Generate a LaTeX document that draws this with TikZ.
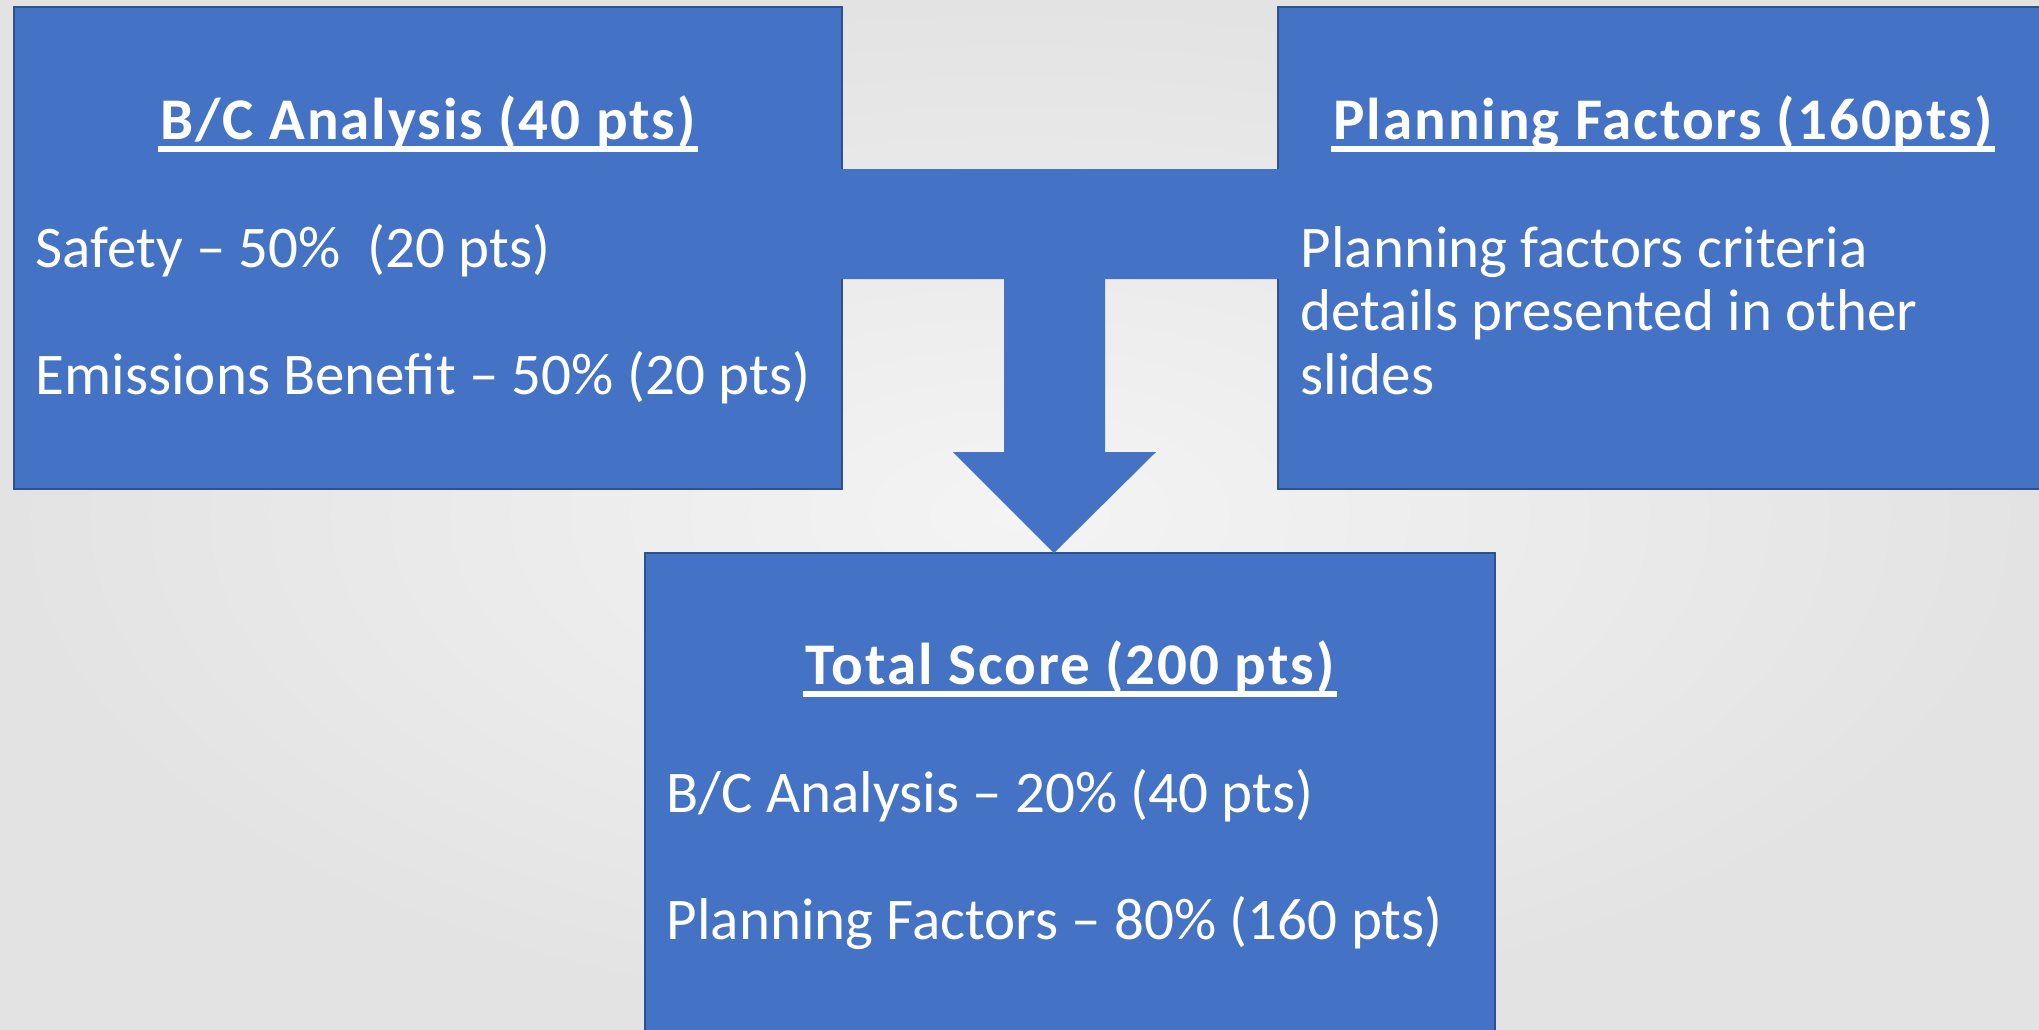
\documentclass[tikz,border=0pt]{standalone}
\usepackage{fontspec}
\setmainfont{Carlito}
\newfontfamily\headfont{Carlito}[LetterSpace=3.3]
\usetikzlibrary{calc,positioning}
\definecolor{boxblue}{HTML}{4472C4}
\definecolor{boxline}{HTML}{2F528F}
\definecolor{bgin}{HTML}{F4F4F4}
\definecolor{bgout}{HTML}{E3E3E3}

\begin{document}
\begin{tikzpicture}[x=0.1mm,y=-0.1mm,
		score box/.style={rectangle,draw=boxline,line width=0.2mm,fill=boxblue,anchor=north west,inner sep=0pt},
		head text/.style={text=white,inner sep=0pt,anchor=base,font=\fontsize{16.8}{18}\selectfont\headfont\bfseries},
		body text/.style={text=white,inner sep=0pt,anchor=base west,align=left,font=\fontsize{16.8}{18}\selectfont},
		under line/.style={white,line width=0.55mm}]
		\useasboundingbox (0,0) rectangle (2039,1029);
		\clip (0,0) rectangle (2039,1029);
		\shade[inner color=bgin,outer color=bgout] (0,0) rectangle (2039,1029);
		\node[score box,minimum width=82.8mm,minimum height=48.2mm] (bc) at (13,6) {};
		\node[score box,minimum width=77mm,minimum height=48.2mm] (pf) at (1277,6) {};
		\node[score box,minimum width=85mm,minimum height=50mm] (ts) at (644,552) {};
		\coordinate (tip) at ($(ts.north)+(-16,1)$);
		\fill[boxblue] (tip) -- ++(102,-101) -- ++(-51,0) -- ++(0,-173)
		-- ($(pf.north west)+(10,273)$) -- ++(0,-110) -- ($(bc.north east)+(-10,163)$) -- ++(0,110)
		-- ($(tip)+(-50,-274)$) -- ++(0,173) -- ++(-51,0) -- cycle;
		\node[head text] (bch) at ($(bc.north)+(0,133)$) {B/C Analysis (40 pts)};
		\node[body text] (bc1) at ($(bc.north west)+(22,261)$) {Safety – 50\%\ \ (20 pts)};
		\node[body text] (bc2) at ($(bc.north west)+(22,388)$) {Emissions Benefit – 50\% (20 pts)};
		\node[head text] (pfh) at ($(pf.north)+(0,133)$) {Planning Factors (160pts)};
		\node[body text] (pf1) at ($(pf.north west)+(23,388)$) {Planning factors criteria\\details presented in other\\slides};
		\node[head text] (tsh) at ($(ts.north)+(0,132)$) {Total Score (200 pts)};
		\node[body text] (ts1) at ($(ts.north west)+(22,260)$) {B/C Analysis – 20\% (40 pts)};
		\node[body text] (ts2) at ($(ts.north west)+(22,387)$) {Planning Factors – 80\% (160 pts)};
		\foreach \h in {bch,pfh,tsh}
		\draw[under line] ($(\h.base west)+(-2,10)$) -- ($(\h.base east)+(2,10)$);
		\end{tikzpicture}
\end{document}
